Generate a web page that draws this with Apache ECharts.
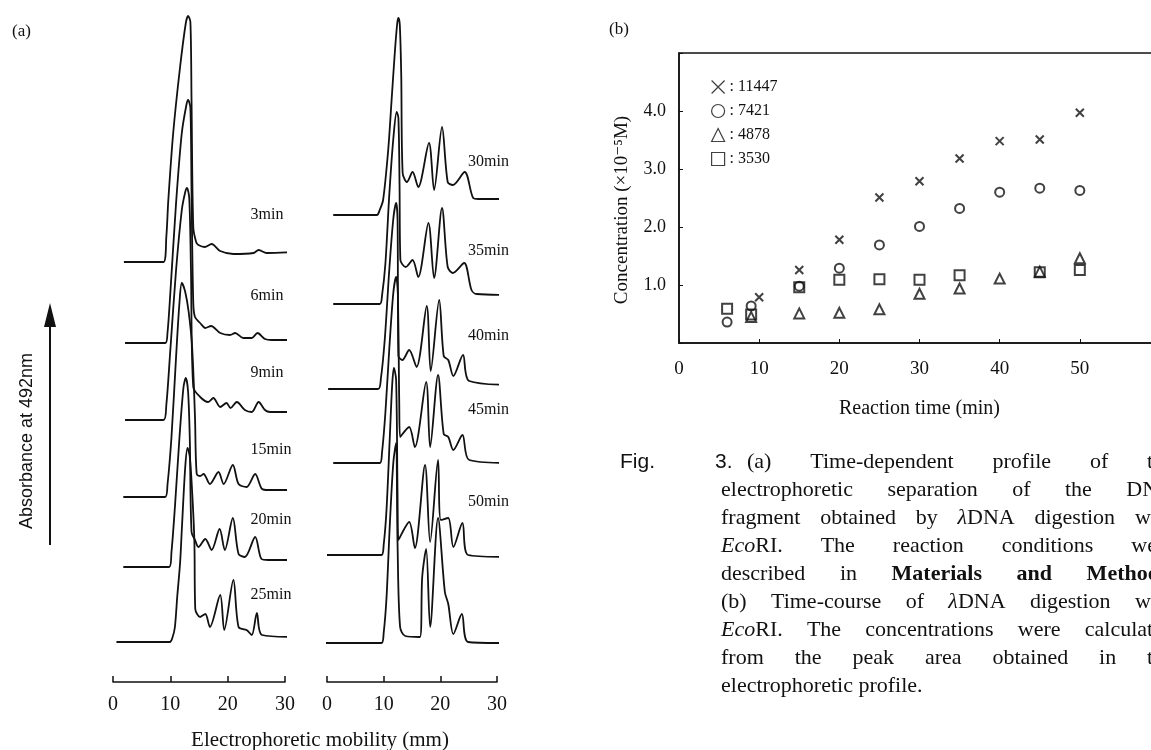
<!DOCTYPE html>
<html>
<head>
<meta charset="utf-8">
<title>Fig. 3 EcoRI digestion of lambda DNA</title>
<script src="https://cdn.jsdelivr.net/npm/echarts@6/dist/echarts.min.js"></script>
<style>
  html, body { margin: 0; padding: 0; background: #fff; }
  #chart { width: 1151px; height: 750px; }
</style>
</head>
<body>
<div id="chart"></div>
<script>
// ---------- panel (a): electropherograms, [mobility mm, signal above own baseline] ----------
const leftNames = ['3min', '6min', '9min', '15min', '20min', '25min'];
const leftOffsets = [420, 339, 262, 185, 115, 40];
const rightNames = ['30min', '35min', '40min', '45min', '50min', ''];
const rightOffsets = [467, 378, 293, 219, 127, 39];

const trace3min = [[1.9,0],[8.8,0],[9.3,25],[9.65,62],[10.5,129],[11.7,195],[12.7,239],[13.1,246],[13.5,240],[13.7,160],[14.0,35],[14.5,20],[14.9,17],[16.0,15],[17.2,18],[18.7,11],[21.0,8],[24.5,9],[25.4,12],[26.8,9],[34.7,11]];
const trace6min = [[2.1,0],[9.1,0],[9.5,10],[10.0,50],[11.0,140],[12.0,210],[12.8,238],[13.1,243],[13.5,235],[13.7,150],[14.0,40],[14.3,26],[15.2,20],[16.1,15],[17.1,17],[18.7,10],[20.4,8],[21.3,10],[22.7,5],[24.2,5],[25.2,10],[26.5,4],[27.7,3],[33.5,3]];
const trace9min = [[2.1,0],[8.8,0],[9.3,15],[10.0,70],[11.0,150],[12.0,210],[12.6,228],[12.9,232],[13.3,222],[13.6,150],[14.0,33],[15.2,23],[16.6,18],[17.5,22],[18.7,13],[19.8,17],[20.5,12],[21.6,18],[23.0,10],[24.2,8],[25.4,18],[26.5,10],[27.4,8],[32.3,8]];
const trace15min = [[1.8,0],[9.1,0],[9.5,12],[10.2,60],[11.0,140],[11.6,195],[12.0,214],[12.6,205],[13.2,185],[13.8,150],[14.3,80],[14.6,23],[15.2,21],[15.8,23],[16.9,13],[18.4,25],[19.3,13],[20.9,32],[21.9,13],[23.3,10],[24.8,23],[26.0,8],[27.1,7],[31.8,7]];
const trace20min = [[1.8,0],[9.8,0],[10.2,15],[10.8,60],[11.6,130],[12.3,180],[12.7,189],[13.1,175],[13.4,127],[13.7,35],[14.3,27],[14.9,20],[16.1,28],[17.2,17],[18.6,38],[19.5,17],[20.9,49],[21.9,13],[23.0,10],[24.8,30],[25.9,8],[27.1,7],[32.3,7]];
const trace25min = [[0.6,0],[9.9,0],[10.4,5],[10.8,15],[11.2,45],[11.7,79],[12.0,112],[12.6,175],[13.0,194],[13.4,185],[13.9,140],[14.2,99],[14.35,33],[15.2,25],[16.1,28],[16.9,15],[18.7,47],[19.4,12],[21.0,62],[21.9,15],[23.3,12],[24.2,7],[25.1,29],[26.0,7],[32.3,5]];

const trace30min = [[1.1,0],[8.8,0],[9.3,5],[9.9,15],[10.8,65],[11.4,115],[12.0,165],[12.4,192],[12.6,197],[12.85,190],[13.1,140],[13.35,42],[14.1,33],[15.1,43],[16.1,28],[18.0,72],[18.9,25],[20.3,88],[21.3,33],[22.2,30],[24.3,43],[25.8,17],[26.7,16],[35.2,16]];
const trace35min = [[1.1,0],[9.3,0],[9.7,8],[10.3,40],[11.0,110],[11.7,165],[12.3,192],[12.6,186],[12.8,120],[12.95,44],[13.9,37],[15.1,44],[16.1,27],[17.9,81],[18.9,26],[20.3,96],[21.3,37],[22.2,31],[24.2,41],[25.5,14],[26.4,10],[33.7,9]];
const trace40min = [[0.2,0],[9.0,0],[9.5,10],[10.2,50],[11.0,120],[11.7,170],[12.2,186],[12.45,170],[12.6,33],[13.3,29],[14.5,39],[15.8,22],[17.6,83],[18.3,18],[19.8,89],[20.6,33],[21.4,29],[22.3,13],[24.0,34],[25.1,8],[33.5,4]];
const trace45min = [[1.1,0],[9.3,0],[9.7,10],[10.3,50],[11.0,115],[11.7,170],[12.2,186],[12.5,170],[12.75,60],[12.9,26],[14.5,36],[15.5,16],[17.5,81],[18.2,16],[19.6,88],[20.6,29],[21.4,26],[22.3,13],[23.9,28],[25.1,3],[32.6,0]];
const trace50min = [[0,0],[9.6,0],[10.0,10],[10.5,45],[11.1,120],[11.5,170],[11.8,187],[12.2,175],[12.45,60],[12.6,15],[14.5,33],[15.5,7],[17.3,90],[18.2,13],[19.6,95],[20.1,35],[21.4,37],[22.3,8],[23.9,32],[24.9,0],[32.9,-2]];
const traceLast = [[-0.35,0],[9.6,0],[10.0,10],[10.5,45],[11.1,120],[11.7,180],[12.2,200],[12.35,150],[12.45,99],[12.9,16],[13.8,7],[16.4,6],[16.8,66],[17.5,94],[18.2,16],[19.6,125],[20.8,51],[21.4,39],[22.3,9],[23.8,29],[24.9,1],[31.4,0]];

const leftTraces = [trace3min, trace6min, trace9min, trace15min, trace20min, trace25min];
const rightTraces = [trace30min, trace35min, trace40min, trace45min, trace50min, traceLast];
const mobilityTicks = [0, 10, 20, 30];

// ---------- panel (b): concentration (x10^-5 M) vs reaction time (min) ----------
const fragmentNames = ['11447', '7421', '4878', '3530'];
const crossTime = [10, 15, 20, 25, 30, 35, 40, 45, 50];
const crossConc = [0.79, 1.26, 1.78, 2.51, 2.79, 3.18, 3.48, 3.51, 3.97];
const circleTime = [6, 9, 15, 20, 25, 30, 35, 40, 45, 50];
const circleConc = [0.36, 0.64, 0.98, 1.29, 1.69, 2.01, 2.32, 2.60, 2.67, 2.63];
const triangleTime = [9, 15, 20, 25, 30, 35, 40, 45, 50];
const triangleConc = [0.45, 0.51, 0.52, 0.58, 0.85, 0.94, 1.11, 1.23, 1.46];
const squareTime = [6, 9, 15, 20, 25, 30, 35, 45, 50];
const squareConc = [0.59, 0.49, 0.96, 1.09, 1.10, 1.09, 1.17, 1.22, 1.26];

// ---------- caption ----------
const captionLines = [
  ['(a)', 'Time-dependent', 'profile', 'of', 'the'],
  ['electrophoretic', 'separation', 'of', 'the', 'DNA'],
  ['fragment', 'obtained', 'by', '{i|λ}DNA', 'digestion', 'with'],
  ['{i|Eco}RI.', 'The', 'reaction', 'conditions', 'were'],
  ['described', 'in', '{b|Materials}', '{b|and}', '{b|Methods.}'],
  ['(b)', 'Time-course', 'of', '{i|λ}DNA', 'digestion', 'with'],
  ['{i|Eco}RI.', 'The', 'concentrations', 'were', 'calculated'],
  ['from', 'the', 'peak', 'area', 'obtained', 'in', 'the'],
  ['electrophoretic', 'profile.']
];

const SERIF = '"Liberation Serif", "DejaVu Serif", serif';
const SANS = '"Liberation Sans", "DejaVu Sans", sans-serif';
const INK = '#111';

const chart = echarts.init(document.getElementById('chart'), null, { renderer: 'canvas' });

function traceSeries(points, offset, name, axis, labelX, labelRise) {
  const s = {
    type: 'line',
    xAxisIndex: axis,
    yAxisIndex: axis,
    data: points.map(p => [p[0], p[1] + offset]),
    smooth: 0.3,
    symbol: 'none',
    clip: false,
    silent: true,
    lineStyle: { color: INK, width: 1.8 }
  };
  if (name) {
    s.markPoint = {
      symbol: 'rect',
      symbolSize: 1,
      silent: true,
      itemStyle: { color: 'rgba(0,0,0,0)' },
      label: {
        show: true, position: 'right', distance: 0, formatter: name,
        color: INK, fontFamily: SERIF, fontSize: 16
      },
      data: [{ coord: [labelX, offset + labelRise] }]
    };
  }
  return s;
}

function mobilityAxis(gridIndex) {
  return {
    gridIndex, type: 'value', min: 0, max: 30, interval: 10,
    axisLine: { lineStyle: { color: INK, width: 1.5 } },
    axisTick: { inside: true, length: 6, lineStyle: { color: INK, width: 1.5 } },
    axisLabel: { color: INK, fontFamily: SERIF, fontSize: 20, margin: 13,
      formatter: v => mobilityTicks.includes(v) ? String(v) : '' },
    splitLine: { show: false }
  };
}

function signalAxis(gridIndex) {
  return { gridIndex, type: 'value', min: 0, max: 682, show: false };
}

function scatterSeries(name, xs, ys, symbol, size) {
  return {
    type: 'scatter', name, xAxisIndex: 2, yAxisIndex: 2,
    data: xs.map((x, i) => [x, ys[i]]),
    symbol, symbolSize: size, silent: true,
    itemStyle: { color: 'rgba(0,0,0,0)', borderColor: INK, borderWidth: 2 }
  };
}

const series = [];
leftTraces.forEach((t, i) => series.push(traceSeries(t, leftOffsets[i], leftNames[i], 0, 23.9, 47)));
rightTraces.forEach((t, i) => series.push(traceSeries(t, rightOffsets[i], rightNames[i], 1, 24.8, 53)));
series.push(scatterSeries(fragmentNames[0], crossTime, crossConc, 'path://M0,0L10,10M10,0L0,10', 8));
series.push(scatterSeries(fragmentNames[1], circleTime, circleConc, 'circle', 9));
series.push(scatterSeries(fragmentNames[2], triangleTime, triangleConc, 'triangle', 10));
series.push(scatterSeries(fragmentNames[3], squareTime, squareConc, 'rect', 10));

// justified caption, one text element per word
const measure = document.createElement('canvas').getContext('2d');
const CAP_SIZE = 22;
function segs(word) {
  const out = [];
  word.replace(/\{(\w)\|([^}]*)\}|([^{]+)/g, (m, k, t, plain) => {
    out.push(plain ? { k: 'n', t: plain } : { k, t });
  });
  return out;
}
function wordWidth(word) {
  return segs(word).reduce((w, s) => {
    const style = s.k === 'i' ? 'italic' : 'normal';
    const weight = s.k === 'b' ? 'bold' : 'normal';
    measure.font = `${style} ${weight} ${CAP_SIZE}px "Liberation Serif"`;
    return w + measure.measureText(s.t).width;
  }, 0);
}
const captionGraphics = [];
const capLeft = 721, capFirst = 747, capRight = 1174, capTop = 462, capStep = 28;
captionLines.forEach((words, li) => {
  const x0 = li === 0 ? capFirst : capLeft;
  const widths = words.map(wordWidth);
  const total = widths.reduce((a, b) => a + b, 0);
  const last = li === captionLines.length - 1;
  measure.font = `${CAP_SIZE}px "Liberation Serif"`;
  const gap = last ? measure.measureText(' ').width : (capRight - x0 - total) / (words.length - 1);
  let x = x0;
  words.forEach((w, wi) => {
    captionGraphics.push({
      type: 'text', x, y: capTop + li * capStep, silent: true,
      style: {
        text: w, fill: INK, fontFamily: SERIF, fontSize: CAP_SIZE, verticalAlign: 'middle',
        rich: {
          i: { fontStyle: 'italic', fontFamily: SERIF, fontSize: CAP_SIZE, fill: INK },
          b: { fontWeight: 'bold', fontFamily: SERIF, fontSize: CAP_SIZE, fill: INK }
        }
      }
    });
    x += widths[wi] + gap;
  });
});

const option = {
  animation: false,
  backgroundColor: '#fff',
  grid: [
    { left: 113, top: 0, width: 172, height: 682, outerBoundsMode: 'none' },
    { left: 327, top: 0, width: 170, height: 682, outerBoundsMode: 'none' },
    { left: 679, top: 53, width: 481, height: 290, outerBoundsMode: 'none',
      show: true, borderColor: INK, borderWidth: 1.5, backgroundColor: 'rgba(0,0,0,0)' }
  ],
  xAxis: [
    mobilityAxis(0),
    mobilityAxis(1),
    {
      gridIndex: 2, type: 'value', min: 0, max: 60, interval: 10,
      axisLine: { lineStyle: { color: INK, width: 1.5 } },
      axisTick: { inside: true, length: 4, lineStyle: { color: INK } },
      axisLabel: { color: INK, fontFamily: SERIF, fontSize: 19, margin: 17,
        formatter: v => v <= 50 ? String(v) : '' },
      splitLine: { show: false },
      name: 'Reaction time (min)', nameLocation: 'middle', nameGap: 56,
      nameTextStyle: { color: INK, fontFamily: SERIF, fontSize: 20 }
    }
  ],
  yAxis: [
    signalAxis(0),
    signalAxis(1),
    {
      gridIndex: 2, type: 'value', min: 0, max: 5, interval: 1,
      axisLine: { lineStyle: { color: INK, width: 1.5 } },
      axisTick: { inside: true, length: 4, lineStyle: { color: INK } },
      axisLabel: { color: INK, fontFamily: SERIF, fontSize: 18, margin: 13,
        formatter: v => (v > 0 && v < 5) ? v.toFixed(1) : '' },
      splitLine: { show: false }
    }
  ],
  legend: {
    data: fragmentNames,
    orient: 'vertical',
    left: 706, top: 74,
    itemWidth: 13, itemHeight: 13, itemGap: 8,
    selectedMode: false,
    itemStyle: { borderWidth: 1.2 },
    formatter: n => ': ' + n,
    textStyle: { color: INK, fontFamily: SERIF, fontSize: 16 }
  },
  graphic: [
    { type: 'text', x: 12, y: 32, silent: true,
      style: { text: '(a)', fill: INK, fontFamily: SERIF, fontSize: 17, verticalAlign: 'middle' } },
    { type: 'text', x: 609, y: 30, silent: true,
      style: { text: '(b)', fill: INK, fontFamily: SERIF, fontSize: 17, verticalAlign: 'middle' } },
    { type: 'text', x: 27, y: 441, rotation: Math.PI / 2, silent: true,
      style: { text: 'Absorbance at 492nm', fill: INK, fontFamily: SANS, fontSize: 18, align: 'center', verticalAlign: 'middle' } },
    { type: 'line', silent: true, shape: { x1: 50, y1: 545, x2: 50, y2: 322 },
      style: { stroke: INK, lineWidth: 2 } },
    { type: 'polygon', silent: true, shape: { points: [[50, 303], [44, 327], [56, 327]] },
      style: { fill: INK } },
    { type: 'text', x: 320, y: 740, silent: true,
      style: { text: 'Electrophoretic mobility (mm)', fill: INK, fontFamily: SERIF, fontSize: 21, align: 'center', verticalAlign: 'middle' } },
    { type: 'text', x: 622, y: 210, rotation: Math.PI / 2, silent: true,
      style: { text: 'Concentration (×10⁻⁵M)', fill: INK, fontFamily: SERIF, fontSize: 19, align: 'center', verticalAlign: 'middle' } },
    { type: 'text', x: 620, y: capTop, silent: true,
      style: { text: 'Fig.', fill: INK, fontFamily: SANS, fontSize: 21, verticalAlign: 'middle' } },
    { type: 'text', x: 715, y: capTop, silent: true,
      style: { text: '3.', fill: INK, fontFamily: SANS, fontSize: 21, verticalAlign: 'middle' } }
  ].concat(captionGraphics),
  series
};

chart.setOption(option);
</script>
</body>
</html>
